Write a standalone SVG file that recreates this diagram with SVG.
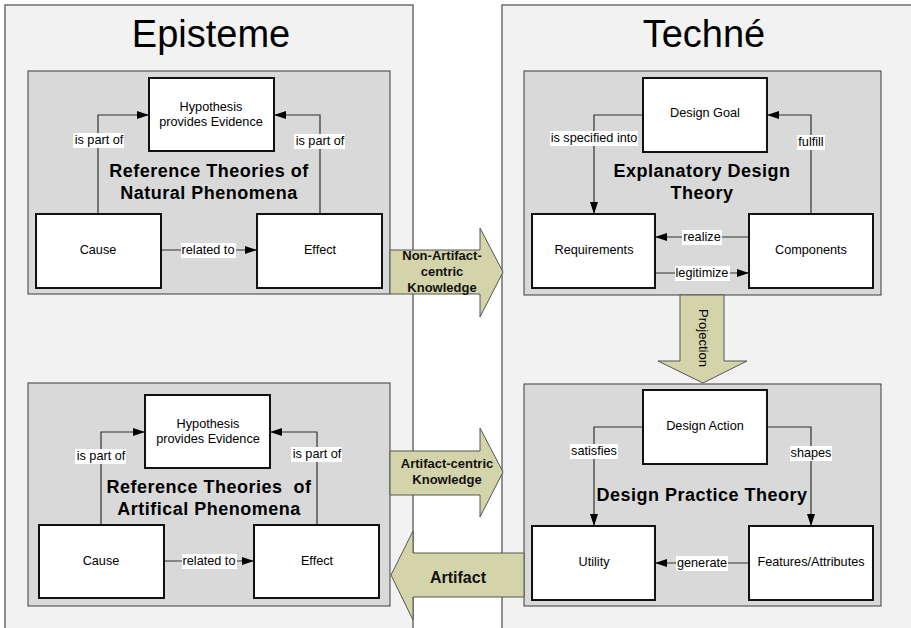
<svg xmlns="http://www.w3.org/2000/svg" width="911" height="628" viewBox="0 0 911 628">
<style>
.outer{fill:#f2f2f2;stroke:#6e6e6e;stroke-width:1.5}
.inner{fill:#d9d9d9;stroke:#3c3c3c;stroke-width:1}
.box{fill:#ffffff;stroke:#111111;stroke-width:2}
.t{font-family:"Liberation Sans",Arial,sans-serif;font-size:12.7px;fill:#000;text-anchor:middle}
.big{font-family:"Liberation Sans",Arial,sans-serif;font-size:38px;fill:#000;text-anchor:middle}
.title{font-family:"Liberation Sans",Arial,sans-serif;font-size:18px;font-weight:bold;letter-spacing:0.5px;fill:#000;text-anchor:middle}
.at{font-family:"Liberation Sans",Arial,sans-serif;font-size:13px;font-weight:bold;fill:#111;text-anchor:middle}
.arrow{fill:#d4d4aa;stroke:#555;stroke-width:1}
.conn{fill:none;stroke:#333;stroke-width:1.2}
.lbg{fill:#ffffff}
</style>
<defs>
<marker id="ah" viewBox="0 0 12 8" refX="12" refY="4" markerWidth="12" markerHeight="8" markerUnits="userSpaceOnUse" orient="auto">
<path d="M0,0 L12,4 L0,8 Z" fill="#000"/>
</marker>
</defs>
<rect width="911" height="628" fill="#ffffff"/>

<g id="episteme">
<rect class="outer" x="5" y="5" width="408" height="630"/>
<text class="big" x="211" y="47">Episteme</text>
</g>
<g id="techne">
<rect class="outer" x="502" y="5" width="420" height="630"/>
<text class="big" x="704" y="47">Techné</text>
</g>

<g id="panel-natural">
<rect class="inner" x="28" y="71" width="362" height="223"/>
<text class="title" x="209" y="177">Reference Theories of</text>
<text class="title" x="209" y="199">Natural Phenomena</text>
</g>
<g id="panel-explanatory">
<rect class="inner" x="524" y="71" width="357" height="224"/>
<text class="title" x="702" y="177">Explanatory Design</text>
<text class="title" x="702" y="199">Theory</text>
</g>
<g id="panel-artificial">
<rect class="inner" x="28" y="383" width="362" height="223"/>
<text class="title" x="209" y="493">Reference Theories&#160; of</text>
<text class="title" x="209" y="515">Artifical Phenomena</text>
</g>
<g id="panel-practice">
<rect class="inner" x="524" y="384" width="357" height="222"/>
<text class="title" x="702" y="501">Design Practice Theory</text>
</g>

<g id="connectors">
<path class="conn" d="M98,214 V115 H149" marker-end="url(#ah)"/>
<path class="conn" d="M320,214 V115 H274" marker-end="url(#ah)"/>
<path class="conn" d="M161,250 H257" marker-end="url(#ah)"/>
<path class="conn" d="M643,115 H594 V214" marker-end="url(#ah)"/>
<path class="conn" d="M811,214 V115 H767" marker-end="url(#ah)"/>
<path class="conn" d="M749,237 H655" marker-end="url(#ah)"/>
<path class="conn" d="M655,273 H749" marker-end="url(#ah)"/>
<path class="conn" d="M101,525 V432 H145" marker-end="url(#ah)"/>
<path class="conn" d="M317,525 V432 H270" marker-end="url(#ah)"/>
<path class="conn" d="M164,561 H254" marker-end="url(#ah)"/>
<path class="conn" d="M643,427 H594 V526" marker-end="url(#ah)"/>
<path class="conn" d="M767,427 H811 V526" marker-end="url(#ah)"/>
<path class="conn" d="M749,563 H655" marker-end="url(#ah)"/>

<rect class="lbg" x="73" y="133" width="51" height="15"/><text class="t" x="99" y="144">is part of</text>
<rect class="lbg" x="294" y="134" width="51" height="15"/><text class="t" x="320" y="145">is part of</text>
<rect class="lbg" x="181" y="243" width="55" height="15"/><text class="t" x="208" y="254">related to</text>

<rect class="lbg" x="550" y="131" width="88" height="15"/><text class="t" x="594" y="142">is specified into</text>
<rect class="lbg" x="797" y="135" width="28" height="15"/><text class="t" x="811" y="146">fulfill</text>
<rect class="lbg" x="682" y="230" width="40" height="15"/><text class="t" x="702" y="241">realize</text>
<rect class="lbg" x="675" y="266" width="55" height="15"/><text class="t" x="702" y="277">legitimize</text>

<rect class="lbg" x="75" y="449" width="51" height="15"/><text class="t" x="101" y="460">is part of</text>
<rect class="lbg" x="291" y="447" width="51" height="15"/><text class="t" x="317" y="458">is part of</text>
<rect class="lbg" x="182" y="554" width="55" height="15"/><text class="t" x="209" y="565">related to</text>

<rect class="lbg" x="570" y="444" width="48" height="15"/><text class="t" x="594" y="455">satisfies</text>
<rect class="lbg" x="790" y="446" width="42" height="15"/><text class="t" x="811" y="457">shapes</text>
<rect class="lbg" x="676" y="556" width="52" height="15"/><text class="t" x="702" y="567">generate</text>
</g>

<g id="arrow-nonartifact">
<path class="arrow" d="M390,250 H480 V228 L503,272 L480,317 V294 H390 Z"/>
<text class="at" x="442" y="260">Non-Artifact-</text>
<text class="at" x="442" y="276">centric</text>
<text class="at" x="442" y="292">Knowledge</text>
</g>
<g id="arrow-artifactcentric">
<path class="arrow" d="M390,451 H480 V428 L503,472 L480,517 V495 H390 Z"/>
<text class="at" x="447" y="468">Artifact-centric</text>
<text class="at" x="447" y="484">Knowledge</text>
</g>
<g id="arrow-artifact">
<path class="arrow" d="M524,553 H413 V531 L391,575 L413,620 V597 H524 Z"/>
<text class="at" x="458" y="583" style="font-size:16px">Artifact</text>
</g>
<g id="arrow-projection">
<path class="arrow" d="M680,295 V361 H658 L703,383 L747,361 H724 V295 Z"/>
<text class="t" x="0" y="0" style="font-size:13px" transform="translate(699,338) rotate(90)">Projection</text>
</g>

<g id="hyp-natural"><rect class="box" x="149" y="78" width="125" height="73"/><text class="t" x="211" y="111">Hypothesis</text><text class="t" x="211" y="126">provides Evidence</text></g>
<g id="cause-natural"><rect class="box" x="36" y="214" width="125" height="74"/><text class="t" x="98" y="254">Cause</text></g>
<g id="effect-natural"><rect class="box" x="257" y="214" width="125" height="74"/><text class="t" x="320" y="254">Effect</text></g>

<g id="design-goal"><rect class="box" x="643" y="78" width="124" height="74"/><text class="t" x="705" y="117">Design Goal</text></g>
<g id="requirements"><rect class="box" x="532" y="214" width="123" height="74"/><text class="t" x="594" y="254">Requirements</text></g>
<g id="components"><rect class="box" x="749" y="214" width="124" height="74"/><text class="t" x="811" y="254">Components</text></g>

<g id="hyp-artificial"><rect class="box" x="145" y="395" width="125" height="73"/><text class="t" x="208" y="428">Hypothesis</text><text class="t" x="208" y="443">provides Evidence</text></g>
<g id="cause-artificial"><rect class="box" x="39" y="525" width="125" height="73"/><text class="t" x="101" y="565">Cause</text></g>
<g id="effect-artificial"><rect class="box" x="254" y="525" width="125" height="73"/><text class="t" x="317" y="565">Effect</text></g>

<g id="design-action"><rect class="box" x="643" y="390" width="124" height="74"/><text class="t" x="705" y="430">Design Action</text></g>
<g id="utility"><rect class="box" x="532" y="526" width="123" height="74"/><text class="t" x="594" y="566">Utility</text></g>
<g id="features"><rect class="box" x="749" y="526" width="124" height="74"/><text class="t" x="811" y="566">Features/Attributes</text></g>
</svg>
